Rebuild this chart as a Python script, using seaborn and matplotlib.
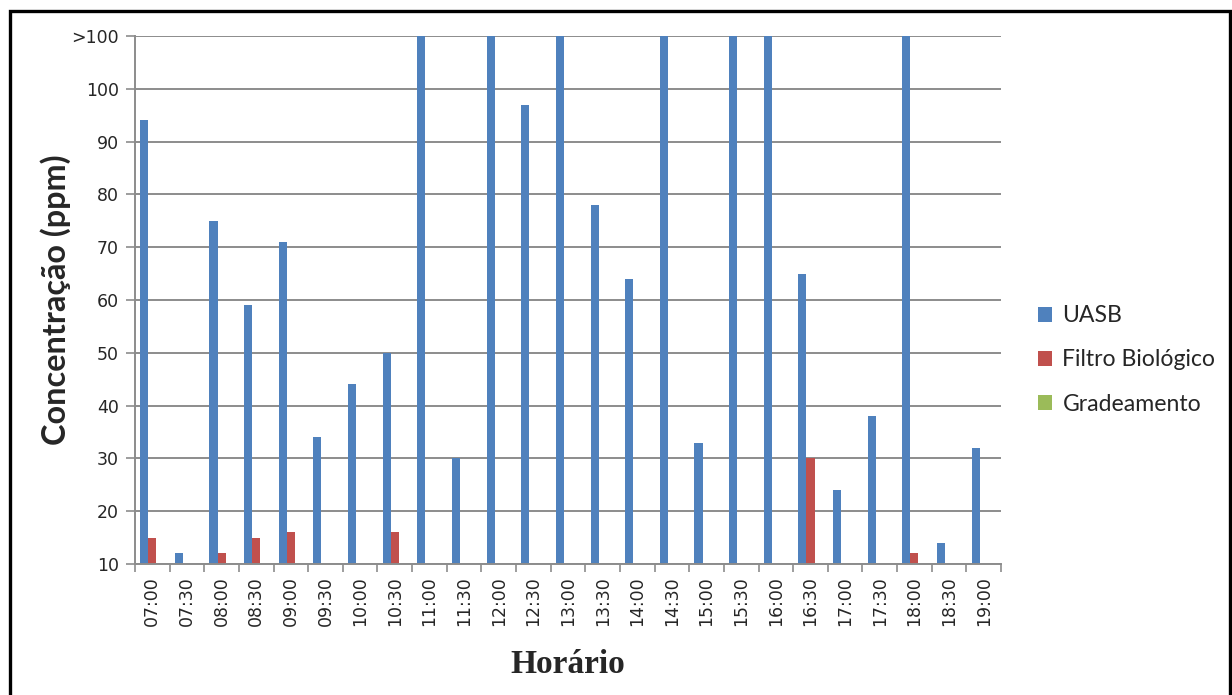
import matplotlib
matplotlib.use("Agg")
import matplotlib.pyplot as plt
from matplotlib.patches import Rectangle
import numpy as np
import pandas as pd
import seaborn as sns

# Half-hourly sampling times
horarios = ["07:00", "07:30", "08:00", "08:30", "09:00", "09:30", "10:00",
            "10:30", "11:00", "11:30", "12:00", "12:30", "13:00", "13:30",
            "14:00", "14:30", "15:00", "15:30", "16:00", "16:30", "17:00",
            "17:30", "18:00", "18:30", "19:00"]

# H2S concentration (ppm); 110 marks readings above the 100 ppm range
uasb = [94, 12, 75, 59, 71, 34, 44, 50, 110, 30, 110, 97, 110, 78, 64,
        110, 33, 110, 110, 65, 24, 38, 110, 14, 32]
filtro = [15, 0, 12, 15, 16, 0, 0, 16, 0, 0, 0, 0, 0, 0, 0,
          0, 0, 0, 0, 30, 0, 0, 12, 0, 0]
gradeamento = [0] * 25

series_names = ["UASB", "Filtro Biológico", "Gradeamento"]
series_colors = ["#4F81BD", "#C0504D", "#9BBB59"]

y_ticks = [10, 20, 30, 40, 50, 60, 70, 80, 90, 100, 110]
y_tick_labels = ["10", "20", "30", "40", "50", "60", "70", "80", "90", "100", ">100"]

df = pd.DataFrame({
    "Horário": horarios * 3,
    "Série": [series_names[0]] * 25 + [series_names[1]] * 25 + [series_names[2]] * 25,
    "Concentração": uasb + filtro + gradeamento,
})

sns.set_style("white")
plt.rcParams["font.family"] = ["DejaVu Sans"]

fig = plt.figure(figsize=(12.32, 6.95), dpi=100)
ax = fig.add_axes([135 / 1232, 1 - 564 / 695, (1001 - 135) / 1232, (564 - 36) / 695])

sns.barplot(data=df, x="Horário", y="Concentração", hue="Série",
            hue_order=series_names, palette=series_colors, order=horarios,
            width=0.7, gap=0, saturation=1, ax=ax, errorbar=None,
            edgecolor="none", linewidth=0)

grid_color = "#8C8C8C"
ax.set_ylim(10, 110)
ax.set_xlim(-0.5, len(horarios) - 0.5)
ax.set_yticks(y_ticks)
ax.set_yticklabels(y_tick_labels, fontsize=12.5)
ax.yaxis.grid(True, color=grid_color, linewidth=1.4)
ax.xaxis.grid(False)
ax.set_axisbelow(True)

for side in ["top", "right"]:
    ax.spines[side].set_visible(False)
for side in ["left", "bottom"]:
    ax.spines[side].set_color(grid_color)
    ax.spines[side].set_linewidth(1.4)

ax.tick_params(axis="y", which="major", direction="out", length=6.5, width=1.2,
               color=grid_color, pad=5, left=True)

# Category labels at centres, tick marks between categories
ax.set_xticks(np.arange(len(horarios)))
ax.set_xticklabels(horarios, rotation=90, fontsize=12.5)
ax.tick_params(axis="x", which="major", length=0, pad=9)
ax.set_xticks(np.arange(len(horarios) + 1) - 0.5, minor=True)
ax.tick_params(axis="x", which="minor", direction="out", length=6, width=1.2,
               color=grid_color, bottom=True)

ax.set_xlabel("Horário", family=["Liberation Serif"], fontweight="bold",
              fontsize=24, labelpad=16)
ax.set_ylabel("Concentração (ppm)", family=["Lato", "DejaVu Sans"],
              fontweight="bold", fontsize=23.3, labelpad=0)

handles, labels = ax.get_legend_handles_labels()
ax.legend(handles, labels, loc="center left", bbox_to_anchor=(1029 / 1232, 1 - 360 / 695),
          bbox_transform=fig.transFigure, frameon=False,
          prop={"family": ["Lato", "DejaVu Sans"], "size": 16.6},
          handlelength=0.6, handleheight=0.6, handletextpad=0.45, labelspacing=1.0,
          borderaxespad=0)

# Outer frame around the chart
fig.patches.append(Rectangle((9.5 / 1232, -0.05), (1230 - 9.5) / 1232, 1.05 - 10.5 / 695,
                             transform=fig.transFigure, fill=False,
                             edgecolor="black", linewidth=2.4, zorder=10))

fig.savefig("out.png", dpi=100)
